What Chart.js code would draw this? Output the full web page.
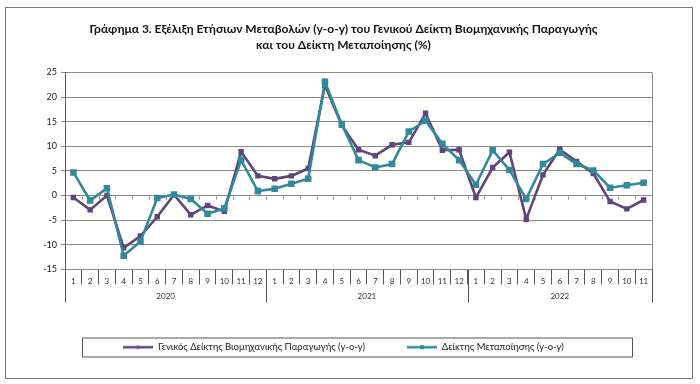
<!DOCTYPE html>
<html>
<head>
<meta charset="utf-8">
<script src="https://cdn.jsdelivr.net/npm/chart.js@4"></script>
<style>
  body { margin: 0; background: #fff; }
  #wrap { width: 700px; height: 384px; }
</style>
</head>
<body>
<div id="wrap"><canvas id="ipiChart" width="700" height="384"></canvas></div>
<script>
// months per year (2020, 2021, 2022)
const years = ['2020', '2021', '2022'];
const monthsPerYear = [12, 12, 11];
const months = [
  '1','2','3','4','5','6','7','8','9','10','11','12',
  '1','2','3','4','5','6','7','8','9','10','11','12',
  '1','2','3','4','5','6','7','8','9','10','11'
];

// Γενικός Δείκτης Βιομηχανικής Παραγωγής (y-o-y)
const generalIndex = [
  -0.4, -2.9, 0.0, -10.6, -8.2, -4.3, 0.2, -3.9, -2.0, -3.2, 8.9, 4.0,
  3.4, 4.0, 5.5, 22.4, 14.3, 9.3, 8.1, 10.3, 10.8, 16.7, 9.2, 9.3,
  -0.4, 5.7, 8.8, -4.8, 4.2, 9.4, 6.9, 4.5, -1.2, -2.7, -0.9
];
// Δείκτης Μεταποίησης (y-o-y)
const manufacturing = [
  4.7, -1.0, 1.5, -12.2, -9.3, -0.5, 0.2, -0.7, -3.7, -2.6, 7.2, 0.9,
  1.4, 2.4, 3.4, 23.1, 14.5, 7.2, 5.7, 6.4, 13.0, 15.2, 10.5, 7.2,
  2.2, 9.2, 5.2, -0.7, 6.4, 8.7, 6.4, 5.1, 1.6, 2.1, 2.6
];

const yMin = -15, yMax = 25, yStep = 5;

const purple = '#5f4579';
const teal = '#31899a';
const gridColor = '#8a8a8a';
const fontFamily = 'Lato, "Open Sans", sans-serif';

// small line + marker picture for legend entries
function legendIcon(color, size) {
  const c = document.createElement('canvas');
  c.width = 30; c.height = 8;
  const g = c.getContext('2d');
  g.strokeStyle = color;
  g.lineWidth = 2.5;
  g.beginPath(); g.moveTo(0, 4); g.lineTo(30, 4); g.stroke();
  g.fillStyle = color;
  g.fillRect(15 - size / 2, 4 - size / 2, size, size);
  return c;
}

const framePlugin = {
  id: 'frame',
  afterDraw(chart) {
    const ctx = chart.ctx;
    const area = chart.chartArea;
    const x = chart.scales.x;
    const y = chart.scales.y;
    const half = (x.getPixelForValue(1) - x.getPixelForValue(0)) / 2;
    ctx.save();
    ctx.strokeStyle = gridColor;
    ctx.lineWidth = 1;

    // right border of plot
    ctx.beginPath();
    ctx.moveTo(Math.round(area.right) + 0.5, area.top);
    ctx.lineTo(Math.round(area.right) + 0.5, area.bottom);
    ctx.stroke();

    // small ticks on the zero line
    const y0 = Math.round(y.getPixelForValue(0)) + 0.5;
    ctx.beginPath();
    for (let i = 1; i < months.length; i++) {
      const px = Math.round(x.getPixelForValue(i) - half) + 0.5;
      ctx.moveTo(px, y0);
      ctx.lineTo(px, y0 + 3);
    }
    ctx.stroke();

    // year separators and labels
    ctx.strokeStyle = '#555';
    ctx.fillStyle = '#333';
    ctx.font = '8px ' + fontFamily;
    ctx.textAlign = 'center';
    ctx.textBaseline = 'middle';
    let start = 0;
    ctx.beginPath();
    years.forEach((yr, k) => {
      const end = start + monthsPerYear[k] - 1;
      const left = x.getPixelForValue(start) - half;
      const right = x.getPixelForValue(end) + half;
      const lx = Math.round(left) + 0.5;
      ctx.moveTo(lx, area.bottom);
      ctx.lineTo(lx, area.bottom + 33);
      if (k === years.length - 1) {
        const rx = Math.round(right) + 0.5;
        ctx.moveTo(rx, area.bottom);
        ctx.lineTo(rx, area.bottom + 33);
      }
      ctx.fillText(yr, (left + right) / 2, area.bottom + 27);
      start = end + 1;
    });
    ctx.stroke();

    // box around legend
    const lg = chart.legend;
    ctx.strokeStyle = '#555';
    ctx.strokeRect(82.5, lg.top + 37.5, 550, 19);

    // outer border
    ctx.strokeStyle = '#7a7a7a';
    ctx.strokeRect(5.5, 7.5, 687, 371);
    ctx.restore();
  }
};

const ctx = document.getElementById('ipiChart').getContext('2d');
new Chart(ctx, {
  type: 'line',
  data: {
    labels: months,
    datasets: [
      {
        label: 'Γενικός Δείκτης Βιομηχανικής Παραγωγής (y-o-y)',
        data: generalIndex,
        borderColor: purple,
        backgroundColor: purple,
        borderWidth: 2.6,
        pointStyle: 'rect',
        pointRadius: 2,
        pointHoverRadius: 2,
        tension: 0,
        order: 2
      },
      {
        label: 'Δείκτης Μεταποίησης (y-o-y)',
        data: manufacturing,
        borderColor: teal,
        backgroundColor: teal,
        borderWidth: 2.6,
        pointStyle: 'rect',
        pointRadius: 2.8,
        pointHoverRadius: 2.8,
        tension: 0,
        order: 1
      }
    ]
  },
  options: {
    responsive: false,
    animation: false,
    layout: {
      padding: { left: 35, right: 48, top: 0, bottom: 22 }
    },
    scales: {
      x: {
        offset: true,
        grid: {
          offset: true,
          drawOnChartArea: false,
          tickLength: 15,
          color: '#555'
        },
        border: { display: true, color: gridColor },
        ticks: {
          autoSkip: false,
          maxRotation: 0,
          padding: -8,
          color: '#333',
          font: { family: fontFamily, size: 8 }
        },
        afterFit(scale) { scale.height = 31; }
      },
      y: {
        min: yMin,
        max: yMax,
        ticks: {
          stepSize: yStep,
          padding: 4,
          color: '#222',
          font: { family: fontFamily, size: 9 }
        },
        grid: {
          color: gridColor,
          tickLength: 4,
          drawTicks: true
        },
        border: { display: true, color: '#555' },
        afterFit(scale) { scale.width = 30; }
      }
    },
    plugins: {
      title: {
        display: true,
        text: [
          'Γράφημα 3. Εξέλιξη Ετήσιων Μεταβολών (y-o-y) του Γενικού Δείκτη Βιομηχανικής Παραγωγής',
          'και του Δείκτη Μεταποίησης (%)'
        ],
        color: '#111',
        font: { family: fontFamily, size: 12, weight: 'bold', lineHeight: 1.35 },
        padding: { top: 21, bottom: 19 }
      },
      legend: {
        position: 'bottom',
        labels: {
          usePointStyle: true,
          pointStyleWidth: 30,
          padding: 42,
          color: '#222',
          font: { family: fontFamily, size: 9.5 },
          generateLabels(chart) {
            return chart.data.datasets.map((ds, i) => ({
              text: ds.label,
              pointStyle: legendIcon(ds.borderColor, i === 0 ? 3 : 4),
              fillStyle: ds.borderColor,
              strokeStyle: ds.borderColor,
              lineWidth: 0,
              fontColor: '#222',
              datasetIndex: i
            }));
          }
        }
      },
      tooltip: { enabled: false }
    }
  },
  plugins: [framePlugin]
});
</script>
</body>
</html>
